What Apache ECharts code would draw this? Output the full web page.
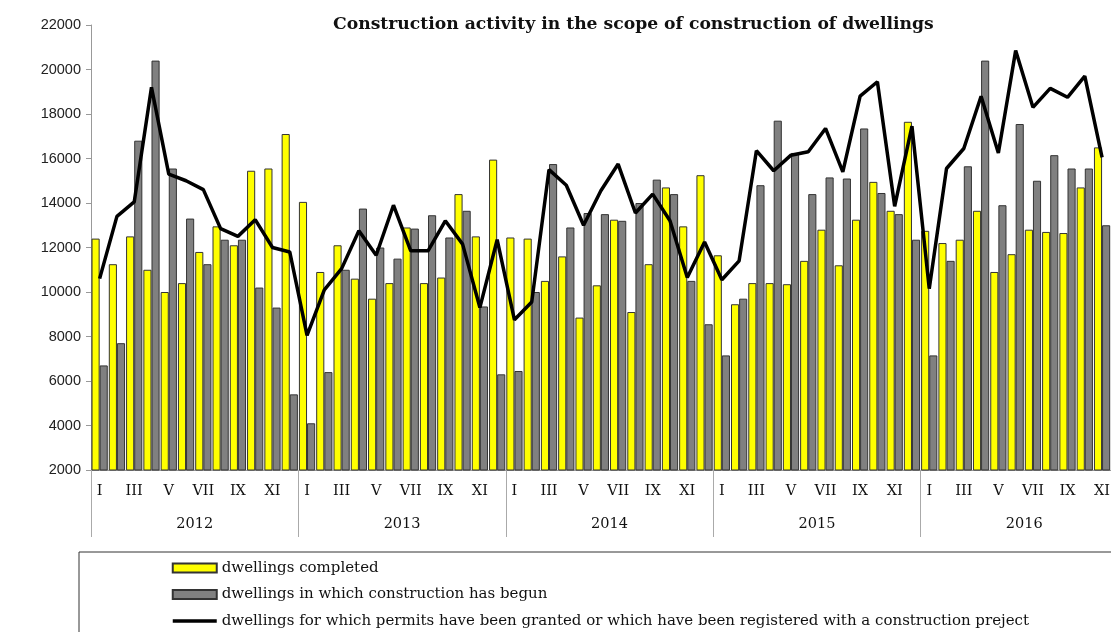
<!DOCTYPE html>
<html>
<head>
<meta charset="utf-8">
<script src="https://cdn.jsdelivr.net/npm/echarts@6/dist/echarts.min.js"></script>
<style>
html,body{margin:0;padding:0;overflow:hidden;background:#fff;}
#chart{width:1130px;height:680px;}
</style>
</head>
<body>
<div id="chart"></div>
<script>
var months = ['I','II','III','IV','V','VI','VII','VIII','IX','X','XI','XII'];
var years = ['2012','2013','2014','2015','2016'];

var completed2012 = [12400, 11250, 12500, 11000, 10000, 10400, 11800, 12950, 12100, 15450, 15550, 17100];
var completed2013 = [14050, 10900, 12100, 10600, 9700, 10400, 12900, 10400, 10650, 14400, 12500, 15950];
var completed2014 = [12450, 12400, 10500, 11600, 8850, 10300, 13250, 9100, 11250, 14700, 12950, 15250];
var completed2015 = [11650, 9450, 10400, 10400, 10350, 11400, 12800, 11200, 13250, 14950, 13650, 17650];
var completed2016 = [12750, 12200, 12350, 13650, 10900, 11700, 12800, 12700, 12650, 14700, 16500, null];

var begun2012 = [6700, 7700, 16800, 20400, 15550, 13300, 11250, 12350, 12350, 10200, 9300, 5400];
var begun2013 = [4100, 6400, 11000, 13750, 12000, 11500, 12850, 13450, 12450, 13650, 9350, 6300];
var begun2014 = [6450, 10000, 15750, 12900, 13550, 13500, 13200, 14000, 15050, 14400, 10500, 8550];
var begun2015 = [7150, 9700, 14800, 17700, 16250, 14400, 15150, 15100, 17350, 14450, 13500, 12350];
var begun2016 = [7150, 11400, 15650, 20400, 13900, 17550, 15000, 16150, 15550, 15550, 13000, null];

var permits2012 = [10600, 13400, 14050, 19200, 15300, 15000, 14600, 12850, 12500, 13250, 12000, 11800];
var permits2013 = [8050, 10100, 11050, 12750, 11650, 13900, 11850, 11850, 13200, 12150, 9300, 12350];
var permits2014 = [8750, 9550, 15500, 14800, 13000, 14550, 15750, 13550, 14400, 13200, 10650, 12250];
var permits2015 = [10550, 11400, 16350, 15450, 16150, 16300, 17350, 15400, 18800, 19450, 13850, 17450];
var permits2016 = [10150, 15550, 16450, 18800, 16250, 20850, 18300, 19150, 18750, 19700, 16050, null];

var yTicks = {min: 2000, max: 22000, interval: 2000};

var categories = [];
years.forEach(function (y) { months.forEach(function (m) { categories.push(y + '-' + m); }); });
var completed = [].concat(completed2012, completed2013, completed2014, completed2015, completed2016);
var begun = [].concat(begun2012, begun2013, begun2014, begun2015, begun2016);
var permits = [].concat(permits2012, permits2013, permits2014, permits2015, permits2016);

var serif = 'DejaVu Serif';
var nameCompleted = 'dwellings completed';
var nameBegun = 'dwellings in which construction has begun';
var namePermits = 'dwellings for which permits have been granted or which have been registered with a construction preject';

var chart = echarts.init(document.getElementById('chart'), null, {renderer: 'canvas'});
chart.setOption({
  animation: false,
  backgroundColor: '#fff',
  title: {
    text: 'Construction activity in the scope of construction of dwellings',
    left: 328, top: 11,
    textStyle: {fontFamily: serif, fontWeight: 'bold', fontSize: 17.2, color: '#111'}
  },
  legend: {
    orient: 'vertical',
    left: 79, top: 552,
    padding: [8.5, 140, 30, 92],
    itemGap: 11.5,
    itemWidth: 44, itemHeight: 9,
    borderColor: '#333', borderWidth: 1,
    textStyle: {fontFamily: serif, fontSize: 15, color: '#111', lineHeight: 15},
    data: [
      {name: nameCompleted, icon: 'rect'},
      {name: nameBegun, icon: 'rect'},
      {name: namePermits,
       itemStyle: {color: 'rgba(0,0,0,0)', borderColor: 'rgba(0,0,0,0)', borderWidth: 0},
       lineStyle: {width: 3.5, color: '#000'}}
    ]
  },
  grid: {left: 91, top: 25, width: 1037, height: 445},
  xAxis: [{
    type: 'category',
    data: categories,
    position: 'bottom',
    axisLine: {show: true, lineStyle: {color: '#999', width: 1}},
    axisTick: {show: false},
    axisLabel: {
      interval: 1, margin: 14,
      fontFamily: serif, fontSize: 14.5, color: '#111',
      formatter: function (v) { return v.split('-')[1]; }
    }
  }, {
    type: 'category',
    data: years,
    position: 'bottom',
    axisLine: {show: false},
    axisTick: {show: true, length: 67, lineStyle: {color: '#aaa', width: 1}},
    axisLabel: {margin: 47, fontFamily: serif, fontSize: 14.5, color: '#111'}
  }],
  yAxis: {
    type: 'value',
    min: yTicks.min, max: yTicks.max, interval: yTicks.interval,
    axisLine: {show: true, lineStyle: {color: '#999', width: 1}},
    axisTick: {show: true, length: 5, lineStyle: {color: '#999'}},
    splitLine: {show: false},
    axisLabel: {
      margin: 10, fontFamily: 'Liberation Sans', fontSize: 14.5, color: '#222',
      formatter: function (v) { return String(v); }
    }
  },
  series: [{
    name: nameCompleted,
    type: 'bar',
    data: completed,
    barGap: '0%', barCategoryGap: '6%',
    itemStyle: {color: '#FFFF00', borderColor: '#333', borderWidth: 1}
  }, {
    name: nameBegun,
    type: 'bar',
    data: begun,
    itemStyle: {color: '#808080', borderColor: '#333', borderWidth: 1}
  }, {
    name: namePermits,
    type: 'line',
    data: permits,
    symbol: 'none', showSymbol: false,
    z: 5,
    lineStyle: {color: '#000', width: 3.5},
    itemStyle: {color: '#000'}
  }]
});
</script>
</body>
</html>
